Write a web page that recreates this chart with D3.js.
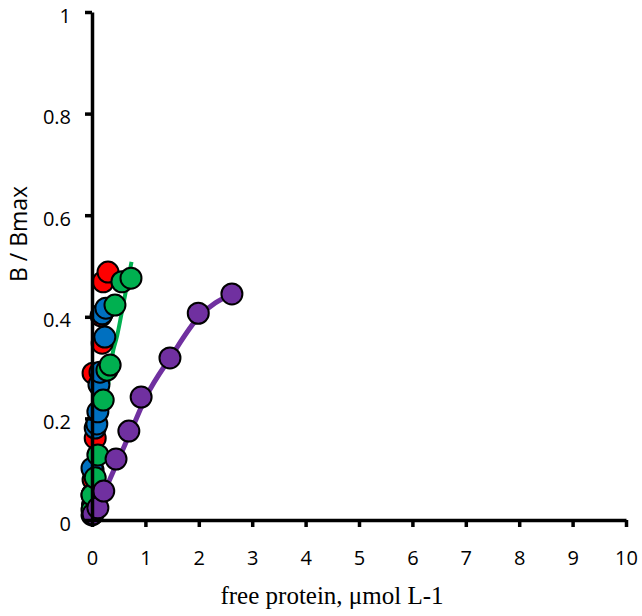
<!DOCTYPE html>
<html><head><meta charset="utf-8">
<script src="https://cdn.jsdelivr.net/npm/d3@7"></script>
<style>body{margin:0;background:#fff}</style>
</head><body>
<svg id="c" width="642" height="616"></svg>
<script>
const xTicks = [0,1,2,3,4,5,6,7,8,9,10];
const yTicks = [0,0.2,0.4,0.6,0.8,1];
const yTickLabels = ["0","0.2","0.4","0.6","0.8","1"];
const xTitle = "free protein, μmol L-1";
const yTitle = "B / Bmax";

const redX = [0.30,0.21,0.17,0.19,0.02,0.06,0.02,0.01,0.01,0.01];
const redY = [0.488,0.469,0.402,0.348,0.289,0.161,0.079,0.051,0.030,0.014];
const blueX = [0.26,0.19,0.24,0.15,0.13,0.11,0.09,0.06,0.00,0.02,0.00,0.00];
const blueY = [0.417,0.406,0.360,0.291,0.266,0.213,0.189,0.181,0.102,0.098,0.049,0.010];
const greenX = [0.73,0.56,0.43,0.34,0.28,0.21,0.11,0.06,0.00,0.00];
const greenY = [0.476,0.469,0.423,0.305,0.295,0.236,0.128,0.083,0.049,0.020];
const purpleX = [2.62,1.99,1.46,0.92,0.69,0.45,0.22,0.11,0.02];
const purpleY = [0.445,0.407,0.319,0.242,0.175,0.120,0.057,0.024,0.012];

const greenFitX = [0,0.1,0.2,0.3,0.4,0.46,0.56,0.74];
const greenFitY = [0,0.10,0.19,0.265,0.335,0.358,0.41,0.508];
const purpleFitX = [0,0.25,0.5,0.75,1.0,1.5,2.0,2.62];
const purpleFitY = [0,0.06,0.12,0.18,0.24,0.325,0.40,0.445];

const svg = d3.select("#c");
const x = d3.scaleLinear().domain([0,10]).range([92,626]);
const y = d3.scaleLinear().domain([0,1]).range([520,12]);

const line = d3.line().x(d=>x(d[0])).y(d=>y(d[1])).curve(d3.curveMonotoneX);
svg.append("path").datum(greenFitX.map((v,i)=>[v,greenFitY[i]])).attr("d",line)
  .attr("fill","none").attr("stroke","#00B050").attr("stroke-width",4);
svg.append("path").datum(purpleFitX.map((v,i)=>[v,purpleFitY[i]])).attr("d",line)
  .attr("fill","none").attr("stroke","#7030A0").attr("stroke-width",5);

const series = [
  {xs:redX, ys:redY, c:"#FF0000"},
  {xs:blueX, ys:blueY, c:"#0070C0"},
  {xs:greenX, ys:greenY, c:"#00B050"},
  {xs:purpleX, ys:purpleY, c:"#7030A0"}
];
series.forEach(s=>{
  svg.append("g").selectAll("circle").data(s.xs.map((v,i)=>[v,s.ys[i]]).reverse()).join("circle")
    .attr("cx",d=>x(d[0])).attr("cy",d=>y(d[1])).attr("r",10.5)
    .attr("fill",s.c).attr("stroke","#000").attr("stroke-width",2);
});

// axes (drawn over the markers)
const xAxis = svg.append("g").attr("transform","translate(0,520)")
  .call(d3.axisBottom(x).tickValues(xTicks).tickSize(7).tickSizeOuter(0).tickPadding(24).tickFormat(d3.format("d")));
const yAxis = svg.append("g").attr("transform","translate(92,0)")
  .call(d3.axisLeft(y).tickValues(yTicks).tickSize(7).tickSizeOuter(0).tickPadding(14).tickFormat((d,i)=>yTickLabels[i]));
[xAxis,yAxis].forEach(g=>{
  g.select(".domain").attr("stroke","#000").attr("stroke-width",3.5);
  g.selectAll(".tick line").attr("stroke","#000").attr("stroke-width",3.5);
  g.selectAll(".tick text").attr("font-family","Open Sans, sans-serif").attr("font-size",20).attr("fill","#000");
});
yAxis.selectAll(".tick text").attr("dy","0.5em");

svg.append("text").attr("x",332).attr("y",604).attr("text-anchor","middle")
  .attr("font-family","Liberation Serif, serif").attr("font-size",25).text(xTitle);
svg.append("text").attr("transform","translate(27,234) rotate(-90)").attr("text-anchor","middle")
  .attr("font-family","Open Sans, sans-serif").attr("font-size",23).text(yTitle);
</script>
</body></html>
